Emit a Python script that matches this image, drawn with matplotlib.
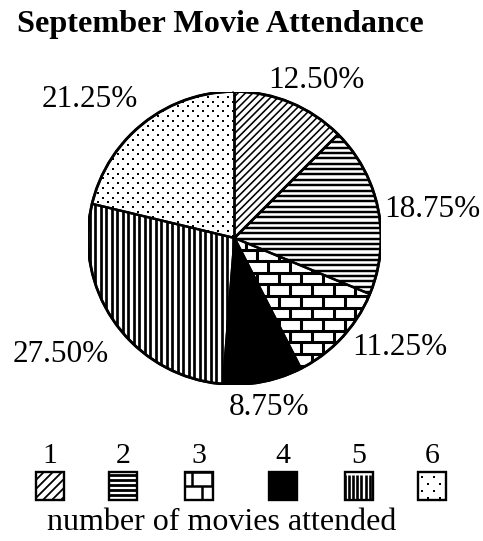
import numpy as np
import matplotlib
matplotlib.use("Agg")
import matplotlib.pyplot as plt
from matplotlib.collections import LineCollection
from matplotlib.patches import Rectangle, Wedge

plt.rcParams["font.family"] = ["Liberation Serif", "DejaVu Serif"]

# ---- data -------------------------------------------------------------
title = "September Movie Attendance"
categories = ["1", "2", "3", "4", "5", "6"]
shares = [12.50, 18.75, 11.25, 8.75, 27.50, 21.25]
axis_label = "number of movies attended"
patterns = ["diag", "hlines", "brick", "solid", "vlines", "dots"]

# ---- figure geometry (pixels) ----------------------------------------
W, H = 483, 541
CX, CY, R = 234.5, 238.0, 146.5
fig = plt.figure(figsize=(W / 100, H / 100), dpi=100)

ax = fig.add_axes([(CX - R) / W, (H - CY - R) / H, 2 * R / W, 2 * R / H])
fills = ["black" if p == "solid" else "white" for p in patterns]
wedges, _ = ax.pie(shares, colors=fills, startangle=90, counterclock=False,
                   wedgeprops=dict(edgecolor="none", linewidth=0))
ax.set_xlim(-1, 1)
ax.set_ylim(-1, 1)
ax.set_aspect("equal")
ax.axis("off")


def line_segments(kind, x0, x1, y0, y1, s, rising=1):
    """Segments for a hatch texture over [x0,x1]x[y0,y1].

    rising=+1 makes diagonals climb with increasing y, -1 the opposite.
    """
    segs = []
    if kind == "hlines":
        for y in np.arange(y0, y1, s["h"]):
            segs.append([(x0, y), (x1, y)])
    elif kind == "vlines":
        for x in np.arange(x0, x1, s["v"]):
            segs.append([(x, y0), (x, y1)])
    elif kind == "diag":
        span = (x1 - x0) + (y1 - y0)
        ym = 0.5 * (y0 + y1)
        for c in np.arange(-span, span, s["d"]):
            segs.append([(x0, ym + c - rising * (x1 - x0) / 2 * 2),
                         (x1, ym + c + rising * (x1 - x0) / 2 * 0)])
    elif kind == "brick":
        bh, bw, ox, oy = s["bh"], s["bw"], s["bx"], s["by"]
        ks = np.arange(np.floor((y0 - oy) / bh) - 1, np.ceil((y1 - oy) / bh) + 1)
        for k in ks:
            ya = oy + k * bh
            yb = ya + bh
            segs.append([(x0, ya), (x1, ya)])
            shift = (int(k) % 2) * bw / 2
            start = ox + shift - bw * np.ceil((ox + shift - x0) / bw) - bw
            for x in np.arange(start, x1 + bw, bw):
                segs.append([(x, ya), (x, yb)])
    return segs


def dot_points(x0, x1, y0, y1, sx, sy):
    pts = []
    for i, y in enumerate(np.arange(y0, y1, sy)):
        off = (i % 2) * sx / 2
        for x in np.arange(x0 + off, x1, sx):
            pts.append((x, y))
    return np.array(pts)


# pie textures, spacings in pixels converted to data units
u = 1.0 / R
pie_sp = dict(h=5.35 * u, v=5.5 * u, d=7.4 * u, bh=11.6 * u, bw=22.0 * u,
              bx=0.0, by=0.0)
pie_lw = dict(hlines=1.75, vlines=1.95, diag=1.15, brick=2.2)

for w, kind in zip(wedges, patterns):
    w.set_zorder(1)
    if kind in pie_lw:
        lc = LineCollection(line_segments(kind, -1.1, 1.1, -1.1, 1.1, pie_sp, rising=1),
                            colors="black", linewidths=pie_lw[kind], zorder=2,
                            capstyle="butt")
        ax.add_collection(lc)
        lc.set_clip_path(w)
    elif kind == "dots":
        pts = dot_points(-1.1, 1.1, -1.1, 1.1, 10.0 * u, 4.8 * u)
        sc = ax.scatter(pts[:, 0], pts[:, 1], s=3.0, marker="s", c="black",
                        linewidths=0, zorder=2)
        sc.set_clip_path(w)
    # outline on top of the texture
    ax.add_patch(Wedge(w.center, w.r, w.theta1, w.theta2, fill=False,
                       edgecolor="black", linewidth=1.7, zorder=3))
ax.add_patch(plt.Circle((0, 0), 1, fill=False, edgecolor="black",
                        linewidth=2.0, zorder=4))

# percentage labels (centre x, baseline y in pixels)
label_pos = [(316.5, 88), (432.5, 217), (400, 355), (269, 415), (60.5, 362), (89.5, 107)]
for v, (px, py) in zip(shares, label_pos):
    ax.text((px - CX) / R, (CY - py) / R, f"{v:.2f}%", ha="center",
            va="baseline", fontsize=22.5, clip_on=False)

# ---- title, key and axis label on a pixel-space overlay ---------------
ov = fig.add_axes([0, 0, 1, 1], zorder=5)
ov.set_xlim(0, W)
ov.set_ylim(H, 0)
ov.axis("off")
ov.patch.set_alpha(0)

ov.text(17, 32, title, fontsize=23.2, fontweight="bold", ha="left", va="baseline")

key_x = [50, 123, 199, 283, 359, 432]
key_top, key_size = 472, 28
key_sp = dict(h=5.2, v=4.1, d=9.0, bh=14.0, bw=20.0, by=key_top)
key_lw = dict(hlines=2.0, vlines=1.9, diag=1.3, brick=1.8)
for cat, kind, xc in zip(categories, patterns, key_x):
    x0, y0 = xc - key_size / 2, key_top
    box = Rectangle((x0, y0), key_size, key_size,
                    facecolor="black" if kind == "solid" else "white",
                    edgecolor="black", linewidth=1.7, zorder=3)
    ov.add_patch(box)
    sp = dict(key_sp, bx=x0 + 7)
    if kind in key_lw:
        # overlay y axis points down, so diagonals must fall in data terms
        lc = LineCollection(line_segments(kind, x0, x0 + key_size, y0 + 2.6,
                                          y0 + key_size, sp, rising=-1),
                            colors="black", linewidths=key_lw[kind], zorder=4)
        ov.add_collection(lc)
        lc.set_clip_path(box)
    elif kind == "dots":
        pts = dot_points(x0 + 4, x0 + key_size, y0 + 5, y0 + key_size, 12.0, 7.0)
        sc = ov.scatter(pts[:, 0], pts[:, 1], s=3.2, marker="s", c="black",
                        linewidths=0, zorder=4)
        sc.set_clip_path(box)
    ov.text(xc, 463, cat, fontsize=21.5, ha="center", va="baseline")

ov.text(222, 530, axis_label, fontsize=23, ha="center", va="baseline")

fig.savefig("out.png", dpi=100)
